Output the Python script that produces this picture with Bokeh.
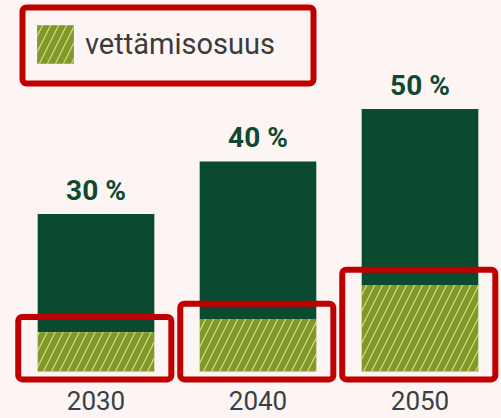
from bokeh.plotting import figure
from bokeh.models import Range1d, Legend, LegendItem, BoxAnnotation, ColumnDataSource
from bokeh.core.properties import value
from bokeh.embed import file_html
from bokeh.resources import INLINE

# ---- data ----
years = ["2030", "2040", "2050"]
totals = [30, 40, 50]          # total share, %
retention = [7.5, 10, 16.5]    # "vettämisosuus" part, %
total_labels = ["30 %", "40 %", "50 %"]
legend_label = "vettämisosuus"

BG = "#fcf5f3"
DARK = "#0a4a2e"
OLIVE = "#80992a"
RED = "#c00000"

xs = list(range(len(years)))
bar_w = 0.72

src = ColumnDataSource(dict(x=xs, year=years, total=totals, ret=retention, lab=total_labels))

p = figure(width=501, height=418, output_backend="svg", toolbar_location=None,
           x_range=Range1d(-0.5895, 2.5031), y_range=Range1d(-8.95, 70.67),
           min_border=0, background_fill_color=BG, border_fill_color=BG,
           outline_line_color=None)
p.axis.visible = False
p.grid.visible = False

p.vbar(x="x", width=bar_w, bottom="ret", top="total", source=src,
       fill_color=DARK, line_color=None)
hr = p.vbar(x="x", width=bar_w, bottom=0, top="ret", source=src,
            fill_color=OLIVE, line_color=None,
            hatch_pattern="/", hatch_color="#e9f08e", hatch_alpha=0.8,
            hatch_scale=16, hatch_weight=1.2)

p.text(x="x", y="total", text="lab", source=src, y_offset=-24,
       text_align="center", text_baseline="alphabetic",
       text_font=value("Roboto"), text_font_style="bold",
       text_font_size="28px", text_color="#0f4a30")
p.text(x="x", y=0, text="year", source=src, y_offset=29,
       text_align="center", text_baseline="middle",
       text_font=value("Roboto"), text_font_size="26px", text_color="#3a3f44")

legend = Legend(items=[LegendItem(label=legend_label, renderers=[hr])],
                location=(32, 350), padding=0, margin=0,
                glyph_width=46, glyph_height=48, label_standoff=7,
                label_text_font="Roboto", label_text_font_size="29px",
                label_text_color="#3b3b3b",
                background_fill_alpha=0, border_line_alpha=0)
p.add_layout(legend, "center")

# red highlight boxes
p.add_layout(BoxAnnotation(left=22, right=313, top=411, bottom=335,
                           left_units="screen", right_units="screen",
                           top_units="screen", bottom_units="screen",
                           fill_alpha=0, line_color=RED, line_alpha=1, line_width=6,
                           border_radius=4))
for i in xs:
    p.add_layout(BoxAnnotation(left=xs[i] - 0.48, right=xs[i] + 0.465,
                               bottom=-1.5, top=retention[i] + 2.9,
                               fill_alpha=0, line_color=RED, line_alpha=1, line_width=6,
                               border_radius=4))

open("out.html", "w").write(file_html(p, INLINE))
